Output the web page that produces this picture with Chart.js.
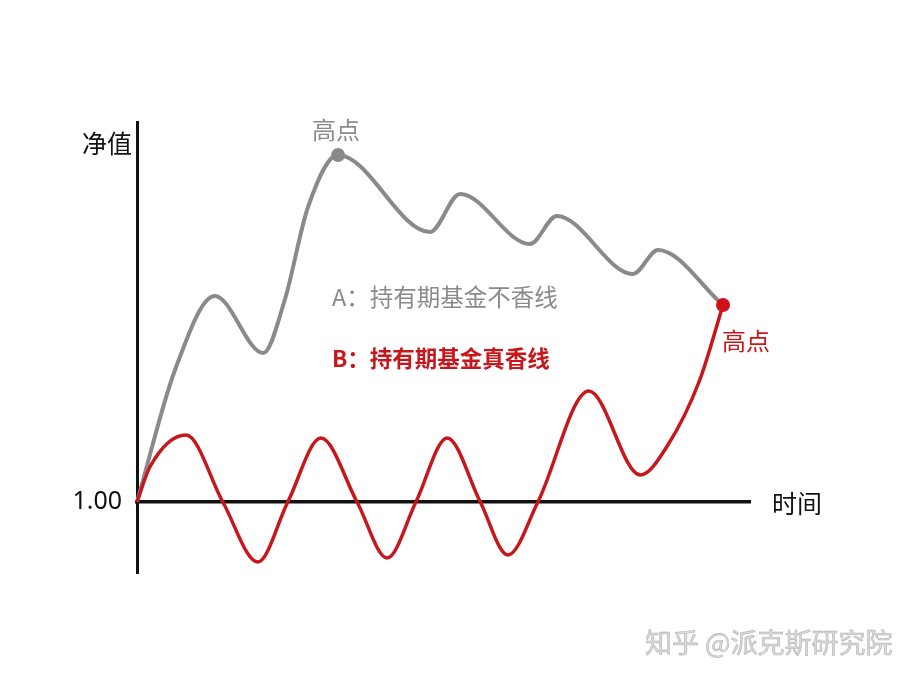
<!DOCTYPE html>
<html>
<head>
<meta charset="utf-8">
<script src="https://cdn.jsdelivr.net/npm/chart.js@4/dist/chart.umd.min.js"></script>
<style>
  html, body { margin: 0; padding: 0; background: #ffffff; }
  #wrap { width: 914px; height: 680px; position: relative; }
</style>
</head>
<body>
<div id="wrap"><canvas id="c" width="914" height="680"></canvas></div>
<script>
// ---- data (time units 0..100, net value) ----
const grayT = [0, 6.2, 12.7, 20.6, 24.1, 27.9, 32.8, 47.8, 52.7, 64.1, 68.5, 80.9, 85.0, 95.6];
const grayV = [1.000, 1.264, 1.412, 1.298, 1.404, 1.590, 1.694, 1.540, 1.616, 1.516, 1.572, 1.456, 1.504, 1.394];
const redT = [0, 2.1, 8.0, 14.0, 19.7, 24.6, 30.0, 35.9, 40.8, 45.5, 50.6, 56.0, 60.5, 65.4, 73.7, 82.1, 86.6, 91.8, 95.6];
const redV = [1.000, 1.070, 1.134, 1.000, 0.880, 1.000, 1.128, 1.000, 0.888, 1.000, 1.128, 1.000, 0.894, 1.000, 1.222, 1.054, 1.114, 1.244, 1.394];
const yTickValues = [1.00];
const seriesNames = ['A：持有期基金不香线', 'B：持有期基金真香线'];
const peakLabel = '高点';
const yAxisTitle = '净值';
const xAxisTitle = '时间';
const watermark = '知乎 @派克斯研究院';
const grayPeakIndex = 6;

const GRAY = '#8a8a8a';
const RED = '#c8161d';
const CJK = '"Noto Sans CJK SC", "Noto Sans", sans-serif';

const toPts = (ts, vs) => ts.map((t, i) => ({ x: t, y: vs[i] }));

const textPlugin = {
  id: 'texts',
  afterDraw(chart) {
    const ctx = chart.ctx;
    const xs = chart.scales.x, ys = chart.scales.y;
    ctx.save();
    ctx.textBaseline = 'middle';
    // axis titles
    ctx.fillStyle = '#111';
    ctx.font = '25px ' + CJK;
    ctx.textAlign = 'left';
    ctx.fillText(yAxisTitle, 82, 143);
    ctx.fillText(xAxisTitle, 772, ys.getPixelForValue(1) + 1);
    // gray peak label
    const gx = xs.getPixelForValue(grayT[grayPeakIndex]);
    const gy = ys.getPixelForValue(grayV[grayPeakIndex]);
    ctx.fillStyle = GRAY;
    ctx.font = '24px ' + CJK;
    ctx.textAlign = 'center';
    ctx.fillText(peakLabel, gx - 2, gy - 25);
    // red end label
    const last = redT.length - 1;
    const rx = xs.getPixelForValue(redT[last]);
    const ry = ys.getPixelForValue(redV[last]);
    ctx.fillStyle = RED;
    ctx.textAlign = 'left';
    ctx.fillText(peakLabel, rx - 1, ry + 36);
    // series captions
    ctx.fillStyle = GRAY;
    ctx.font = '23.5px ' + CJK;
    ctx.fillText(seriesNames[0], 332, 297);
    ctx.fillStyle = RED;
    ctx.font = 'bold 22.5px ' + CJK;
    ctx.fillText(seriesNames[1], 332, 358);
    // watermark
    ctx.font = '27px ' + CJK;
    ctx.fillStyle = '#dadada';
    ctx.strokeStyle = '#b4b4b4';
    ctx.lineWidth = 0.6;
    ctx.fillText(watermark, 645, 643);
    ctx.strokeText(watermark, 645, 643);
    ctx.restore();
  }
};

new Chart(document.getElementById('c'), {
  type: 'line',
  data: {
    datasets: [
      {
        label: seriesNames[0],
        data: toPts(grayT, grayV),
        borderColor: GRAY,
        backgroundColor: GRAY,
        borderWidth: 4,
        cubicInterpolationMode: 'monotone',
        pointRadius: grayT.map((_, i) => i === grayPeakIndex ? 7 : 0),
        pointBackgroundColor: GRAY,
        pointBorderWidth: 0,
        order: 1,
        clip: false
      },
      {
        label: seriesNames[1],
        data: toPts(redT, redV),
        borderColor: RED,
        backgroundColor: '#d0101a',
        borderWidth: 3.5,
        cubicInterpolationMode: 'monotone',
        pointRadius: redT.map((_, i) => i === redT.length - 1 ? 7 : 0),
        pointBackgroundColor: '#d0101a',
        pointBorderWidth: 0,
        order: 0,
        clip: false
      }
    ]
  },
  options: {
    responsive: false,
    animation: false,
    layout: { padding: { left: 0, top: 122, right: 164, bottom: 107 } },
    plugins: { legend: { display: false }, tooltip: { enabled: false } },
    scales: {
      x: {
        type: 'linear',
        min: 0,
        max: 100,
        position: { y: 1 },
        grid: { display: false, drawTicks: false },
        border: { display: true, color: '#111', width: 3.5 },
        ticks: { display: false },
        afterFit: s => { s.height = 0; }
      },
      y: {
        type: 'linear',
        min: 0.858,
        max: 1.76,
        grid: { display: false, drawTicks: false },
        border: { display: true, color: '#111', width: 3 },
        afterBuildTicks: s => { s.ticks = yTickValues.map(v => ({ value: v })); },
        ticks: {
          padding: 15,
          color: '#111',
          font: { size: 25, family: '"Noto Sans", "Open Sans", sans-serif' },
          callback: v => Number(v).toFixed(2)
        },
        afterFit: s => { s.width = 137; }
      }
    }
  },
  plugins: [textPlugin]
});
</script>
</body>
</html>
